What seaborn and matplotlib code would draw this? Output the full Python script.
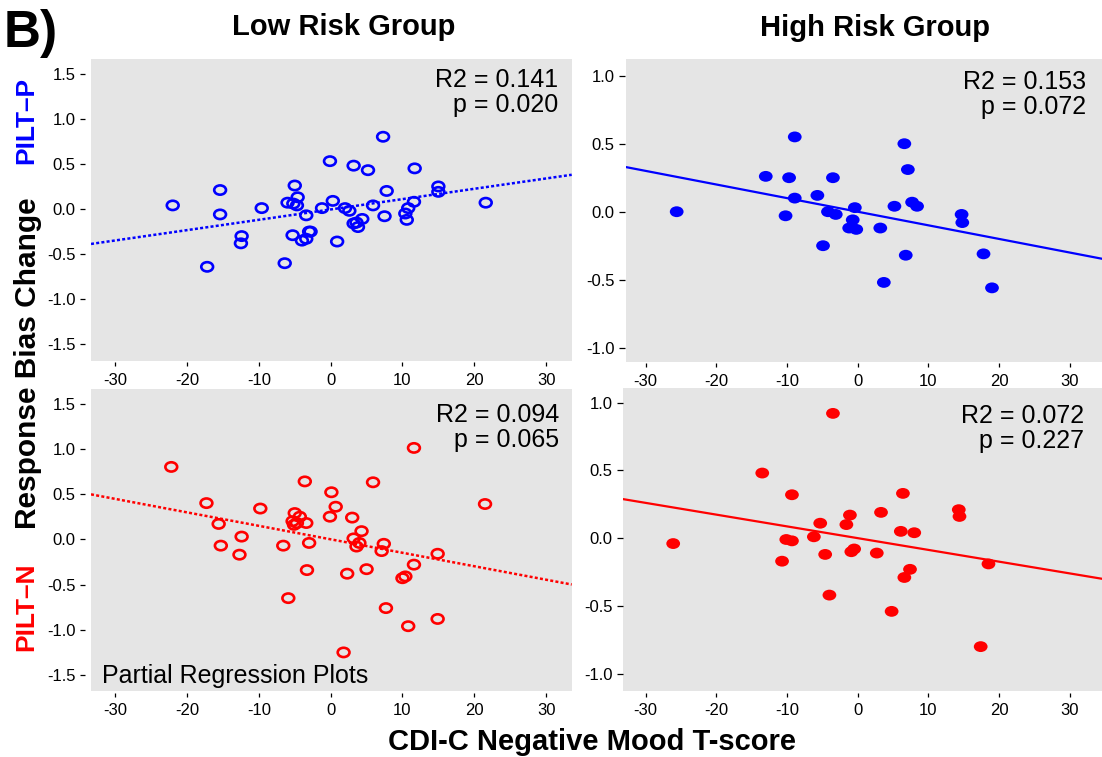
import numpy as np
import matplotlib
matplotlib.use("Agg")
import matplotlib.pyplot as plt
import matplotlib.path as mpath
from matplotlib.ticker import FixedLocator, FormatStrFormatter
import seaborn as sns

# ---------------- data ----------------
low_p_x = [-22.0, -15.4, -15.4, -17.2, -12.4, -12.5, -9.6, -6.4, -6.0, -5.0, -4.6, -5.2, -4.7, -5.3,
           -3.4, -4.0, -3.4, -3.0, -2.8, -1.2, -0.1, 0.3, 0.9, 2.0, 2.6, 3.2, 5.2, 5.9, 3.2, 3.8,
           3.6, 4.4, 7.3, 7.8, 7.5, 11.7, 11.6, 10.8, 10.4, 10.6, 15.0, 15.0, 21.6]
low_p_y = [0.04, 0.21, -0.06, -0.64, -0.30, -0.38, 0.01, -0.60, 0.07, 0.26, 0.13, 0.06, 0.04, -0.29,
           -0.07, -0.35, -0.33, -0.25, -0.25, 0.01, 0.53, 0.09, -0.36, 0.01, -0.02, 0.48, 0.43, 0.04,
           -0.16, -0.20, -0.15, -0.11, 0.80, 0.20, -0.08, 0.45, 0.08, 0.01, -0.05, -0.12, 0.25, 0.19, 0.07]

high_p_x = [-25.6, -13.0, -9.7, -8.9, -8.9, -10.2, -5.7, -3.5, -4.9, -4.2, -3.1, -0.4, -0.7, -1.2,
            -0.2, 3.2, 3.7, 5.2, 6.6, 7.1, 6.8, 7.7, 8.4, 14.7, 14.8, 17.8, 19.0]
high_p_y = [0.00, 0.26, 0.25, 0.55, 0.10, -0.03, 0.12, 0.25, -0.25, 0.00, -0.02, 0.03, -0.06, -0.12,
            -0.13, -0.12, -0.52, 0.04, 0.50, 0.31, -0.32, 0.07, 0.04, -0.02, -0.08, -0.31, -0.56]

low_n_x = [-22.2, -17.3, -15.6, -15.3, -12.4, -12.7, -9.8, -6.6, -5.9, -5.0, -4.3, -5.3, -5.1, -4.7,
           -3.4, -3.6, -3.0, -3.3, 0.1, 0.7, -0.1, 2.3, 3.0, 4.3, 3.2, 4.0, 3.6, 1.8, 5.0, 5.9,
           7.4, 7.1, 7.7, 11.6, 11.6, 10.4, 10.0, 10.8, 14.9, 14.9, 21.5]
low_n_y = [0.80, 0.40, 0.17, -0.07, 0.03, -0.17, 0.34, -0.07, -0.65, 0.29, 0.25, 0.20, 0.16, 0.18,
           0.18, 0.64, -0.04, -0.34, 0.52, 0.36, 0.25, -0.38, 0.24, 0.09, 0.01, -0.04, -0.08, -1.25,
           -0.33, 0.63, -0.05, -0.13, -0.76, -0.28, 1.01, -0.41, -0.43, -0.96, -0.16, -0.88, 0.39]

high_n_x = [-26.1, -13.5, -9.3, -10.7, -10.1, -9.3, -6.2, -5.3, -4.6, -4.0, -3.5, -1.6, -1.1, -0.9,
            -0.5, 2.7, 3.3, 4.8, 6.1, 6.4, 6.6, 7.4, 8.0, 14.3, 14.4, 17.4, 18.5]
high_n_y = [-0.04, 0.48, 0.32, -0.17, -0.01, -0.02, 0.01, 0.11, -0.12, -0.42, 0.92, 0.10, 0.17, -0.10,
            -0.08, -0.11, 0.19, -0.54, 0.05, 0.33, -0.29, -0.23, 0.04, 0.21, 0.16, -0.80, -0.19]

# fitted partial-regression lines (slope, intercept)
fit_slopes = [0.01144, -0.01001, -0.01488, -0.00867]
fit_intercepts = [-0.005, 0.0, 0.0, 0.0]

r2_labels = ["R2 = 0.141", "R2 = 0.153", "R2 = 0.094", "R2 = 0.072"]
p_labels = ["p = 0.020", "p = 0.072", "p = 0.065", "p = 0.227"]

group_titles = ["Low Risk Group", "High Risk Group"]
row_labels = ["PILT\u2013P", "PILT\u2013N"]
x_ticks = [-30, -20, -10, 0, 10, 20, 30]
y_ticks_low = [-1.5, -1.0, -0.5, 0.0, 0.5, 1.0, 1.5]
y_ticks_high = [-1.0, -0.5, 0.0, 0.5, 1.0]

# ---------------- style ----------------
sns.set_theme(style="white")
plt.rcParams["font.family"] = ["Liberation Sans", "DejaVu Sans"]
plt.rcParams["axes.unicode_minus"] = False

W, H = 1102, 757
fig = plt.figure(figsize=(W / 100, H / 100), dpi=100)
fig.patch.set_facecolor("white")

def px_axes(left, top, right, bottom):
    return fig.add_axes([left / W, 1 - bottom / H, (right - left) / W, (bottom - top) / H])

circ = mpath.Path.unit_circle()
ellipse = mpath.Path(circ.vertices * np.array([1.27, 1.0]), circ.codes)

panels = [
    dict(rect=(91, 59, 571.7, 361), x=low_p_x, y=low_p_y, color="#0000ff", filled=False,
         xlim=(-33.38, 33.57), ylim=(-1.683, 1.661), yt=y_ticks_low, ls=(0, (1.2, 0.9)),
         txt=(0.971, 0.908, 0.8255), yoff=4.3, ylen=3.6, xoff=1.0, xlen=3.0),
    dict(rect=(626, 59, 1102, 361.7), x=high_p_x, y=high_p_y, color="#0000ff", filled=True,
         xlim=(-32.77, 34.56), ylim=(-1.103, 1.123), yt=y_ticks_high, ls="-",
         txt=(0.966, 0.901, 0.818), yoff=0.7, ylen=4.5, xoff=1.0, xlen=3.0),
    dict(rect=(91, 389, 571.7, 690.7), x=low_n_x, y=low_n_y, color="#ff0000", filled=False,
         xlim=(-33.38, 33.57), ylim=(-1.673, 1.661), yt=y_ticks_low, ls=(0, (1.2, 0.9)),
         txt=(0.974, 0.8916, 0.8088), yoff=4.3, ylen=3.6, xoff=1.4, xlen=3.0),
    dict(rect=(623, 388.3, 1102, 690.7), x=high_n_x, y=high_n_y, color="#ff0000", filled=True,
         xlim=(-33.2, 34.56), ylim=(-1.125, 1.105), yt=y_ticks_high, ls="-",
         txt=(0.962, 0.886, 0.8034), yoff=0.0, ylen=4.5, xoff=1.4, xlen=3.0),
]

for i, pnl in enumerate(panels):
    ax = px_axes(*pnl["rect"])
    ax.set_facecolor("#e5e5e5")
    for s in ax.spines.values():
        s.set_visible(False)
    ax.spines["left"].set_position(("outward", pnl["yoff"]))
    ax.spines["bottom"].set_position(("outward", pnl["xoff"]))

    if pnl["filled"]:
        sns.scatterplot(x=pnl["x"], y=pnl["y"], ax=ax, marker=ellipse, s=98,
                        color=pnl["color"], edgecolor="none", linewidth=0, legend=False, zorder=3)
    else:
        sns.scatterplot(x=pnl["x"], y=pnl["y"], ax=ax, marker=ellipse, s=72,
                        facecolor="none", edgecolor=pnl["color"], linewidth=1.9,
                        legend=False, zorder=3)

    ax.axline((0, fit_intercepts[i]), slope=fit_slopes[i], color=pnl["color"],
              lw=1.8 if not pnl["filled"] else 1.6, ls=pnl["ls"], zorder=2)

    ax.set_xlim(*pnl["xlim"])
    ax.set_ylim(*pnl["ylim"])
    ax.xaxis.set_major_locator(FixedLocator(x_ticks))
    ax.yaxis.set_major_locator(FixedLocator(pnl["yt"]))
    ax.xaxis.set_major_formatter(FormatStrFormatter("%d"))
    ax.yaxis.set_major_formatter(FormatStrFormatter("%.1f"))
    ax.tick_params(axis="x", bottom=True, direction="out", length=pnl["xlen"], width=0.9,
                   color="black", labelsize=12, labelcolor="black", pad=4.5)
    ax.tick_params(axis="y", left=True, direction="out", length=pnl["ylen"], width=0.9,
                   color="black", labelsize=12, labelcolor="black", pad=3.0)
    ax.grid(False)
    ax.set_xlabel("")
    ax.set_ylabel("")

    tx, ty1, ty2 = pnl["txt"]
    ax.text(tx, ty1, r2_labels[i], transform=ax.transAxes, ha="right", va="baseline",
            fontsize=18, color="black")
    ax.text(tx, ty2, p_labels[i], transform=ax.transAxes, ha="right", va="baseline",
            fontsize=18, color="black")
    if i == 2:
        ax.text(0.022, 0.026, "Partial Regression Plots", transform=ax.transAxes,
                ha="left", va="baseline", fontsize=18, color="black")

# titles and labels
fig.text(343.5 / W, 1 - 35 / H, group_titles[0], ha="center", va="baseline",
         fontsize=21, fontweight="bold", color="black")
fig.text(875 / W, 1 - 36 / H, group_titles[1], ha="center", va="baseline",
         fontsize=21, fontweight="bold", color="black")
fig.text(4 / W, 1 - 47.5 / H, "B)", ha="left", va="baseline",
         fontsize=37, fontweight="bold", color="black")
fig.text(592 / W, 1 - 750 / H, "CDI-C Negative Mood T-score", ha="center", va="baseline",
         fontsize=21, fontweight="bold", color="black")
fig.text(26 / W, 1 - 120 / H, row_labels[0], rotation=90, ha="center", va="center",
         fontsize=19, fontweight="bold", color="#0000ff")
fig.text(28 / W, 1 - 363 / H, "Response Bias Change", rotation=90, ha="center", va="center",
         fontsize=21.5, fontweight="bold", color="black")
fig.text(26 / W, 1 - 607 / H, row_labels[1], rotation=90, ha="center", va="center",
         fontsize=19, fontweight="bold", color="#ff0000")

fig.savefig("out.png", dpi=100, facecolor="white")
